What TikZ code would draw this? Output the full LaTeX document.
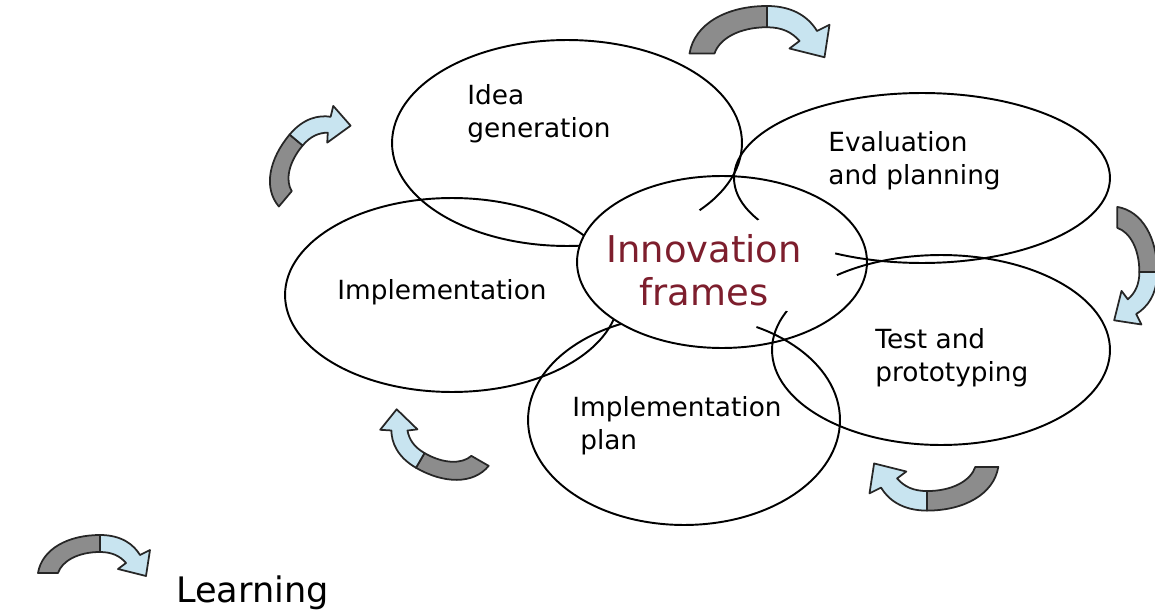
\documentclass[tikz,border=0pt]{standalone}
\usepackage{fontspec}
\setmainfont{DejaVu Sans}
\usetikzlibrary{shapes.geometric}
\definecolor{framered}{RGB}{125,30,45}
\definecolor{tailgray}{RGB}{140,140,140}
\definecolor{headblue}{RGB}{200,228,240}
\tikzset{
  bubble/.style={ellipse, draw, line width=1.1pt, inner sep=0pt},
  stage/.style={font=\fontsize{15pt}{19pt}\selectfont, align=left, inner sep=0pt},
  core/.style={font=\fontsize{21pt}{24.5pt}\selectfont, text=framered, align=center, inner sep=0pt},
  tailpart/.style={draw=black!85, fill=tailgray, line width=1pt, line join=round},
  headpart/.style={draw=black!85, fill=headblue, line width=1pt, line join=round},
  learnarrow/.pic={
    \filldraw[tailpart] (-62,14) .. controls (-58,-10) and (-32,-24) .. (0,-24)
      -- (0,-7) .. controls (-22,-7) and (-38,2) .. (-42,14) -- cycle;
    \filldraw[headpart] (0,-24) .. controls (22,-24) and (34,-14) .. (40,-4)
      -- (50,-9) -- (46,17) -- (18,10) -- (26,4)
      .. controls (20,-3) and (12,-7) .. (0,-7) -- cycle;
  },
}

\begin{document}
\begin{tikzpicture}[x=0.02cm, y=-0.02cm]
  \useasboundingbox (0,0) rectangle (1155,611);
  % the five stages
  \node (idea) [bubble, minimum width=7cm, minimum height=4.12cm] at (567,143) {};
  \node (eval) [bubble, minimum width=7.52cm, minimum height=3.4cm] at (922,178) {};
  \node (impl) [bubble, minimum width=6.68cm, minimum height=3.88cm] at (452,295) {};
  \node (test) [bubble, minimum width=6.76cm, minimum height=3.8cm] at (941,350) {};
  \node (plan) [bubble, minimum width=6.24cm, minimum height=4.2cm] at (684,420) {};
  % centre on top, outer lines poke in where they cross it
  \node (frames) [bubble, fill=white, minimum width=5.8cm, minimum height=3.44cm] at (722,262) {};
  \begin{scope}
    \clip (frames.center) ellipse [x radius=145, y radius=86];
    \clip (735,178) circle [radius=48] (866,262) circle [radius=32] (780,335) circle [radius=25];
    \draw[line width=1.1pt] (idea.center) ellipse [x radius=175, y radius=103];
    \draw[line width=1.1pt] (eval.center) ellipse [x radius=188, y radius=85];
    \draw[line width=1.1pt] (test.center) ellipse [x radius=169, y radius=95];
    \draw[line width=1.1pt] (plan.center) ellipse [x radius=156, y radius=105];
  \end{scope}

  \node (idealbl) [stage, anchor=north west] at (467,84) {Idea\\generation};
  \node (evallbl) [stage, anchor=north west] at (828,131) {Evaluation\\and planning};
  \node (impllbl) [stage] at (442,292) {Implementation};
  \node (testlbl) [stage, anchor=north west] at (875,328) {Test and\\prototyping};
  \node (planlbl) [stage, anchor=north west] at (572,396) {Implementation\\ \hspace*{0.3em}plan};
  \node (frameslbl) [core, anchor=north] at (704,234) {Innovation\\frames};

  % learning arrows
  \pic[scale=1.25] at (767,36) {learnarrow};
  \pic[rotate=-90, scale=1.05] at (1132,272) {learnarrow};
  \pic[rotate=180, scale=1.15] at (927,483) {learnarrow};
  \pic[rotate=150] at (428,447) {learnarrow};
  \pic[rotate=50] at (308,150) {learnarrow};
  \pic at (100,559) {learnarrow};
  \node (legend) [font=\fontsize{20pt}{24pt}\selectfont, anchor=base west] at (170,602) {Learning};
\end{tikzpicture}
\end{document}
